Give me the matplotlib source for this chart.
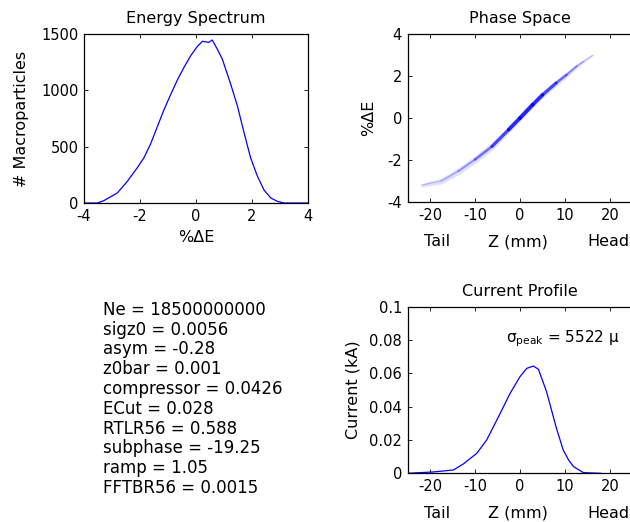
import numpy as np
import matplotlib
matplotlib.use("Agg")
import matplotlib.pyplot as plt
from matplotlib.collections import LineCollection

plt.rcParams['font.family'] = ['DejaVu Sans']
plt.rcParams['mathtext.fontset'] = 'dejavusans'
plt.rcParams['axes.unicode_minus'] = False

# ---------------- data ----------------
energy_x = [-4.0, -3.52, -3.29, -2.81, -2.45, -2.10, -1.86, -1.62, -1.44, -1.14, -0.90,
            -0.67, -0.43, -0.19, 0.05, 0.23, 0.46, 0.58, 0.76, 0.94, 1.24, 1.48, 1.71,
            1.95, 2.19, 2.43, 2.67, 2.90, 3.14, 4.0]
energy_counts = [0, 0, 21, 89, 193, 312, 401, 525, 640, 830, 965,
                 1090, 1203, 1307, 1390, 1435, 1426, 1447, 1366, 1277, 1054, 860, 630,
                 401, 240, 115, 45, 15, 0, 0]

phase_z = [-21.9, -17.5, -13.7, -10.0, -6.2, -2.5, 0.0, 2.8, 5.0, 8.0, 10.3, 12.5, 14.0, 16.2]
phase_de = [-3.2, -3.0, -2.53, -1.98, -1.35, -0.55, 0.0, 0.63, 1.1, 1.66, 2.05, 2.45, 2.68, 3.0]
phase_halfwidth = [0.08, 0.14, 0.17, 0.19, 0.19, 0.17, 0.16, 0.16, 0.16, 0.16, 0.14, 0.11, 0.08, 0.04]
phase_density = [0.05, 0.15, 0.25, 0.4, 0.65, 0.9, 1.0, 1.0, 0.9, 0.65, 0.45, 0.3, 0.15, 0.05]

current_z = [-25, -19.3, -14.8, -12.6, -9.6, -7.4, -5.9, -4.4, -2.2, 0.0, 1.5, 3.0, 4.1,
             5.9, 7.0, 8.1, 9.6, 10.8, 11.9, 14.1, 18.0]
current_kA = [0, 0.0008, 0.002, 0.0056, 0.012, 0.02, 0.028, 0.036, 0.048, 0.058, 0.063,
              0.0644, 0.0624, 0.049, 0.038, 0.027, 0.014, 0.008, 0.004, 0.0004, 0]

param_lines = ["Ne = 18500000000", "sigz0 = 0.0056", "asym = -0.28", "z0bar = 0.001",
               "compressor = 0.0426", "ECut = 0.028", "RTLR56 = 0.588",
               "subphase = -19.25", "ramp = 1.05", "FFTBR56 = 0.0015"]
sigma_peak_text = r"$\mathregular{\sigma_{peak}}$ = 5522 μ"

# ---------------- figure ----------------
W, H = 630, 522
fig = plt.figure(figsize=(W / 100, H / 100), dpi=100)

TICK = 10.5
LAB = 11.5

def style(ax, right=True):
    ax.tick_params(direction='in', length=3, width=0.6, top=True, right=right,
                   labelsize=TICK, pad=4)
    for s in ax.spines.values():
        s.set_linewidth(0.9)

def ax_px(l, t, r, b):
    return fig.add_axes([l / W, 1 - b / H, (r - l) / W, (b - t) / H])

# Energy spectrum
ax1 = ax_px(84, 34, 308, 203)
ax1.plot(energy_x, energy_counts, color='blue', lw=0.9)
ax1.set_xlim(-4, 4)
ax1.set_ylim(0, 1500)
ax1.set_xticks([-4, -2, 0, 2, 4])
ax1.set_yticks([0, 500, 1000, 1500])
ax1.set_title("Energy Spectrum", fontsize=LAB, pad=8)
ax1.set_xlabel("%ΔE", fontsize=LAB, labelpad=5)
ax1.set_ylabel("# Macroparticles", fontsize=LAB, labelpad=9)
style(ax1)

# Phase space
ax2 = ax_px(407.5, 34, 632.5, 202)
z = np.array(phase_z)
c = np.array(phase_de)
hw = np.array(phase_halfwidth)
ax2.fill_between(z, c - hw, c + hw, color=(0.6, 0.6, 1.0), alpha=0.3, lw=0)
pts = np.column_stack([z, c]).reshape(-1, 1, 2)
segs = np.concatenate([pts[:-1], pts[1:]], axis=1)
dens = np.array(phase_density)
segd = (dens[:-1] + dens[1:]) / 2
cols = [(0.0, 0.0, 1.0, 0.15 + 0.7 * d) for d in segd]
lc = LineCollection(segs, colors=cols, linewidths=0.6 + 2.2 * segd, capstyle='round')
ax2.add_collection(lc)
ax2.set_xlim(-25, 25)
ax2.set_ylim(-4, 4)
ax2.set_xticks([-20, -10, 0, 10, 20])
ax2.set_yticks([-4, -2, 0, 2, 4])
ax2.set_title("Phase Space", fontsize=LAB, pad=8)
ax2.set_ylabel("%ΔE", fontsize=LAB, labelpad=8)
style(ax2, right=False)

# Current profile
ax3 = ax_px(407.5, 306.7, 632.5, 473.3)
ax3.plot(current_z, current_kA, color='blue', lw=0.9)
ax3.set_xlim(-25, 25)
ax3.set_ylim(0, 0.1)
ax3.set_xticks([-20, -10, 0, 10, 20])
ax3.set_yticks([0, 0.02, 0.04, 0.06, 0.08, 0.1])
ax3.set_yticklabels(["0", "0.02", "0.04", "0.06", "0.08", "0.1"])
ax3.set_title("Current Profile", fontsize=LAB, pad=8)
ax3.set_ylabel("Current (kA)", fontsize=LAB, labelpad=6)
ax3.text(-3.0, 0.081, sigma_peak_text, fontsize=TICK + 0.5, va='center', ha='left')
style(ax3, right=False)

for ax in (ax2, ax3):
    for zx, s in [(-18.5, "Tail"), (-0.4, "Z (mm)"), (19.6, "Head")]:
        ax.annotate(s, xy=(zx, 0), xycoords=('data', 'axes fraction'),
                    xytext=(0, -32), textcoords='offset points',
                    ha='center', va='baseline', fontsize=LAB, annotation_clip=False)

# Parameter text block
y0 = 310
for i, line in enumerate(param_lines):
    fig.text(103 / W, 1 - (y0 + i * 19.75) / H, line, fontsize=12,
             ha='left', va='center')

fig.savefig("out.png", dpi=100)
